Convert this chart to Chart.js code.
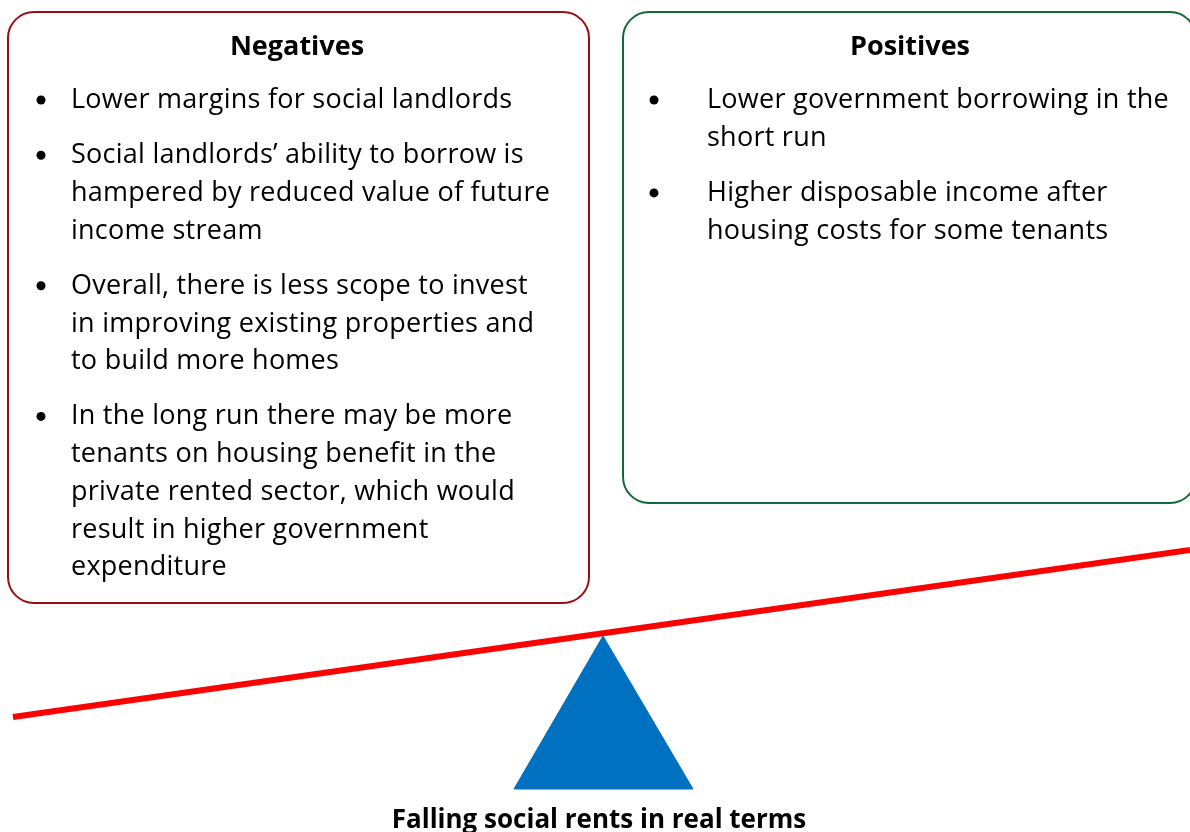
<!DOCTYPE html>
<html><head><meta charset="utf-8">
<script src="https://cdn.jsdelivr.net/npm/chart.js@4.4.0/dist/chart.umd.min.js"></script>
<style>html,body{margin:0;padding:0;background:#fff;overflow:hidden}#wrap{width:1190px;height:832px;position:relative}</style>
</head><body><div id="wrap"><canvas id="c"></canvas></div>
<script>
// ---- data ----
const beamX = [13, 1190];
const beamY = [717, 550];
const fulcrumX = [514, 603, 693, 514];
const fulcrumY = [789, 636, 789, 789];
const negativesTitle = 'Negatives';
const negativesItems = [
  ['Lower margins for social landlords'],
  ['Social landlords\u2019 ability to borrow is', 'hampered by reduced value of future', 'income stream'],
  ['Overall, there is less scope to invest', 'in improving existing properties and', 'to build more homes'],
  ['In the long run there may be more', 'tenants on housing benefit in the', 'private rented sector, which would', 'result in higher government', 'expenditure']
];
const positivesTitle = 'Positives';
const positivesItems = [
  ['Lower government borrowing in the', 'short run'],
  ['Higher disposable income after', 'housing costs for some tenants']
];
const caption = 'Falling social rents in real terms';

// ---- layout / style ----
const FONT = '"Open Sans", Lato, sans-serif';
const panels = [
  {title: negativesTitle, items: negativesItems, box: [8, 12, 589, 603], color: '#960f14',
   titleX: 297, bulletX: 41, textX: 71},
  {title: positivesTitle, items: positivesItems, box: [623, 12, 1196, 503], color: '#0f6a36',
   titleX: 910, bulletX: 654, textX: 707}
];
const layoutCfg = {titleBase: 55, firstBase: 108, lineH: 37.7, itemGap: 17.5, fontSize: 27, titleSize: 27,
  captionSize: 26, spacing: '0.25px', radius: 26};

function roundRect(ctx, x1, y1, x2, y2, r) {
  ctx.beginPath();
  ctx.moveTo(x1 + r, y1);
  ctx.lineTo(x2 - r, y1);
  ctx.arcTo(x2, y1, x2, y1 + r, r);
  ctx.lineTo(x2, y2 - r);
  ctx.arcTo(x2, y2, x2 - r, y2, r);
  ctx.lineTo(x1 + r, y2);
  ctx.arcTo(x1, y2, x1, y2 - r, r);
  ctx.lineTo(x1, y1 + r);
  ctx.arcTo(x1, y1, x1 + r, y1, r);
  ctx.closePath();
}

const panelPlugin = {
  id: 'panels',
  beforeDatasetsDraw(chart) {
    const ctx = chart.ctx;
    ctx.save();
    panels.forEach(p => {
      ctx.lineWidth = 2;
      ctx.strokeStyle = p.color;
      roundRect(ctx, p.box[0], p.box[1], p.box[2], p.box[3], layoutCfg.radius);
      ctx.stroke();
      ctx.fillStyle = '#000';
      ctx.textBaseline = 'alphabetic';
      ctx.textAlign = 'center';
      ctx.letterSpacing = '0px';
      ctx.font = 'bold ' + layoutCfg.titleSize + 'px ' + FONT;
      ctx.fillText(p.title, p.titleX, layoutCfg.titleBase);
      ctx.font = layoutCfg.fontSize + 'px ' + FONT;
      ctx.letterSpacing = layoutCfg.spacing;
      let y = layoutCfg.firstBase;
      p.items.forEach((lines, i) => {
        if (i > 0) y += layoutCfg.itemGap;
        ctx.beginPath();
        ctx.arc(p.bulletX, y - 8, 4.5, 0, Math.PI * 2);
        ctx.fill();
        ctx.textAlign = 'left';
        lines.forEach((ln, j) => {
          ctx.fillText(ln, p.textX, y);
          if (j < lines.length - 1) y += layoutCfg.lineH;
        });
        y += layoutCfg.lineH;
      });
    });
    ctx.letterSpacing = '0px';
    ctx.textAlign = 'center';
    ctx.font = 'bold ' + layoutCfg.captionSize + 'px ' + FONT;
    ctx.fillText(caption, 599, 828);
    ctx.restore();
  }
};

new Chart(document.getElementById('c'), {
  type: 'scatter',
  data: {
    datasets: [
      {label: 'fulcrum', data: fulcrumX.map((x, i) => ({x, y: fulcrumY[i]})), showLine: true,
       fill: 'shape', backgroundColor: '#0070c0', borderColor: '#0070c0', borderWidth: 1, pointRadius: 0, tension: 0},
      {label: 'beam', data: beamX.map((x, i) => ({x, y: beamY[i]})), showLine: true,
       borderColor: '#ff0000', borderWidth: 6, pointRadius: 0, fill: false}
    ]
  },
  options: {
    responsive: true, maintainAspectRatio: false, animation: false,
    layout: {padding: 0},
    plugins: {legend: {display: false}, tooltip: {enabled: false}},
    scales: {
      x: {type: 'linear', min: 0, max: 1190, display: false},
      y: {type: 'linear', min: 0, max: 832, reverse: true, display: false}
    }
  },
  plugins: [panelPlugin]
});
</script></body></html>
